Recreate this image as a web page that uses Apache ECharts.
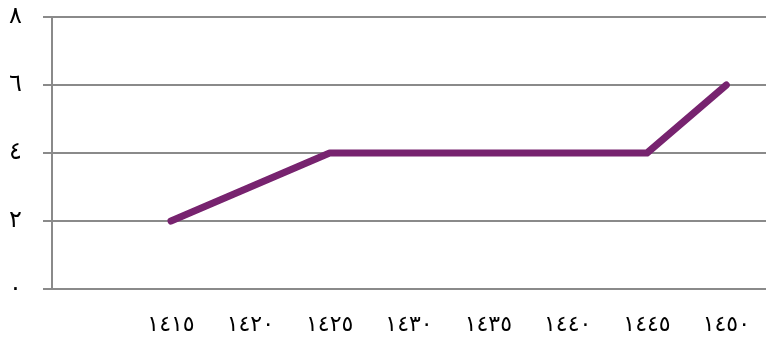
<!DOCTYPE html>
<html>
<head>
<meta charset="utf-8">
<script src="https://cdn.jsdelivr.net/npm/echarts@6/dist/echarts.min.js"></script>
<style>
  html, body { margin: 0; padding: 0; background: #fff; }
  #chart { width: 766px; height: 345px; }
</style>
</head>
<body>
<div id="chart"></div>
<script>
// years in Arabic-Indic digits, first slot is empty
const categories = ['', '١٤١٥', '١٤٢٠', '١٤٢٥', '١٤٣٠', '١٤٣٥', '١٤٤٠', '١٤٤٥', '١٤٥٠']
const values = [null, 2, 3, 4, 4, 4, 4, 4, 6]
const yTickLabels = { 0: '٠', 2: '٢', 4: '٤', 6: '٦', 8: '٨' }

const axisGray = '#8a8a8a'
const myChart = echarts.init(document.getElementById('chart'))
const option = {
  animation: false,
  grid: { left: 52, right: -4, top: 17, bottom: 56, containLabel: false },
  xAxis: {
    type: 'category',
    boundaryGap: true,
    data: categories,
    axisLine: { lineStyle: { color: axisGray, width: 2 } },
    axisTick: { length: 8, lineStyle: { color: axisGray, width: 2 } },
    axisLabel: { color: '#000', fontSize: 22, fontFamily: 'DejaVu Sans', margin: 25 }
  },
  yAxis: {
    type: 'value',
    min: 0,
    max: 8,
    interval: 2,
    axisLine: { show: true, lineStyle: { color: axisGray, width: 2 } },
    axisTick: { show: true, length: 9, lineStyle: { color: axisGray, width: 2 } },
    splitLine: { lineStyle: { color: axisGray, width: 2 } },
    axisLabel: {
      color: '#000', fontSize: 24, fontFamily: 'DejaVu Sans', margin: 30,
      formatter: v => yTickLabels[v]
    }
  },
  series: [
    {
      type: 'line',
      data: values,
      symbol: 'none',
      connectNulls: false,
      lineStyle: { color: '#77236f', width: 7, cap: 'round', join: 'round' }
    }
  ]
}
myChart.setOption(option)
</script>
</body>
</html>
